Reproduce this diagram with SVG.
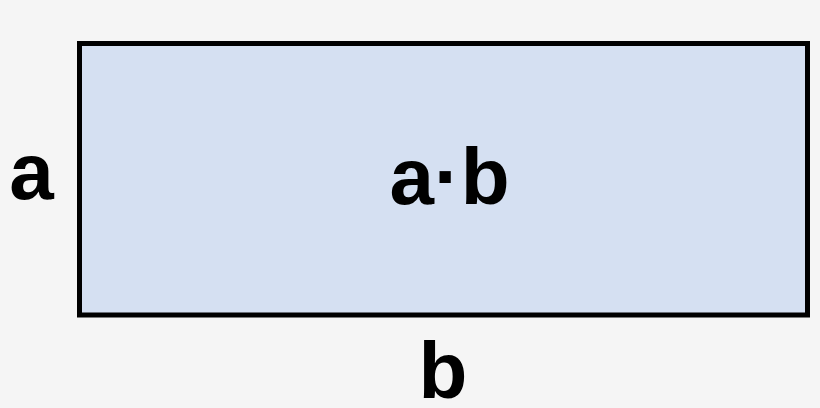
<svg xmlns="http://www.w3.org/2000/svg" width="820" height="408" viewBox="0 0 820 408">
<style>
.lbl{font-family:"Liberation Sans",Arial,sans-serif;font-weight:bold;fill:#000;text-anchor:middle;font-size:80px}
</style>
<rect x="0" y="0" width="820" height="408" fill="#f5f5f5"/>
<g id="area">
<rect x="79.5" y="43.5" width="728" height="271.5" fill="#d5e0f2" stroke="#000" stroke-width="5"/>
<text class="lbl" x="449.5" y="204">a·b</text>
</g>
<g id="side-a"><text class="lbl" x="31.5" y="199">a</text></g>
<g id="side-b"><text class="lbl" x="443" y="398">b</text></g>
</svg>
